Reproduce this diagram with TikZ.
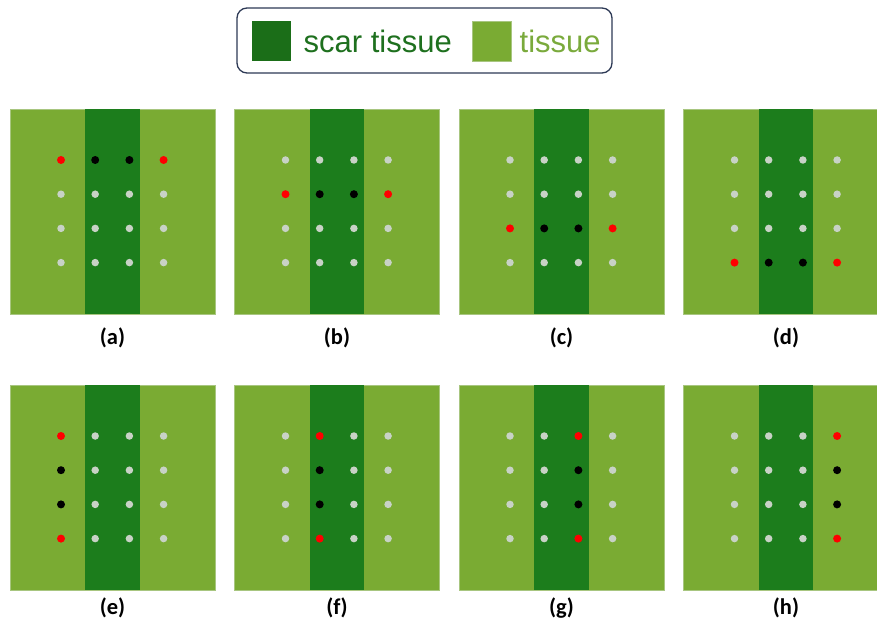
\documentclass[tikz,border=0pt]{standalone}
\usepackage{fontspec}
\setmainfont{Liberation Sans}
\newfontfamily\capfont{Carlito}

\definecolor{tissue}{RGB}{122,171,51}
\definecolor{tissueedge}{RGB}{168,198,128}
\definecolor{scar}{RGB}{28,125,28}
\definecolor{scarkey}{RGB}{27,110,24}
\definecolor{scartext}{RGB}{30,112,30}
\definecolor{tissuetext}{RGB}{122,170,60}
\definecolor{dotgray}{RGB}{200,210,198}
\definecolor{dotred}{RGB}{255,0,0}
\definecolor{legendline}{RGB}{46,58,86}

\begin{document}
\begin{tikzpicture}[x=1pt,y=-1pt,
  legendbox/.style={draw=legendline, line width=1.3pt, rounded corners=10pt,
    fill=white, minimum width=375pt, minimum height=65pt, inner sep=0pt},
  keybox/.style={minimum width=39pt, minimum height=40pt, inner sep=0pt, outer sep=0pt},
  keytext/.style={font=\fontsize{31}{37}\selectfont, inner sep=0pt, anchor=base west},
  panel/.style={fill=tissue, draw=tissueedge, line width=0.6pt, minimum size=205pt,
    inner sep=0pt, outer sep=0pt, anchor=north west},
  band/.style={fill=scar, minimum width=54.5pt, minimum height=205pt,
    inner sep=0pt, outer sep=0pt, anchor=north west},
  dot0/.style={circle, fill=dotgray, minimum size=7.5pt, inner sep=0pt},
  dot1/.style={circle, fill=black, minimum size=8pt, inner sep=0pt},
  dot2/.style={circle, fill=dotred, minimum size=8pt, inner sep=0pt},
  caplabel/.style={font=\capfont\bfseries\fontsize{22.5}{27}\selectfont, inner sep=0pt}]

\clip (0,0) rectangle (877,628);
\fill[white] (0,0) rectangle (877,628);

% legend
\node[legendbox] (legend) at (424.5,40.5) {};
\node[keybox, fill=scarkey, anchor=north west] (scarkey) at (252,21) {};
\node[keytext, text=scartext] (scarlabel) at (303.5,53) {scar tissue};
\node[keybox, fill=tissue, draw=tissueedge, line width=0.6pt, anchor=north west] (tissuekey) at (472,21) {};
\node[keytext, text=tissuetext] (tissuelabel) at (519.5,53) {tissue};

% panels: name / left / top / caption y / mode (0 = row, 1 = column) / highlighted index
\foreach \p/\x/\y/\ly/\m/\k in {
    a/10/109/338/0/1, b/234.5/109/338/0/2, c/459/109/338/0/3, d/683.5/109/338/0/4,
    e/10/385/608/1/1, f/234.5/385/608/1/2, g/459/385/608/1/3, h/683.5/385/608/1/4} {
  \node[panel] (\p) at (\x,\y) {};
  \node[band] (\p-band) at (\x+75,\y) {};
  \foreach \i in {1,...,4} {
    \foreach \j in {1,...,4} {
      \pgfmathtruncatemacro\hit{\m==0 ? (\j==\k) : (\i==\k)}
      \pgfmathtruncatemacro\isend{\m==0 ? (\i==1 || \i==4) : (\j==1 || \j==4)}
      \pgfmathtruncatemacro\st{\hit*(1+\isend)}
      \node[dot\st] (\p-\i-\j) at (\x+51+34.2*\i-34.2, \y+51+34.2*\j-34.2) {};
    }
  }
  \node[caplabel] (\p-label) at (\x+102.5,\ly) {(\p)};
}
\end{tikzpicture}
\end{document}
